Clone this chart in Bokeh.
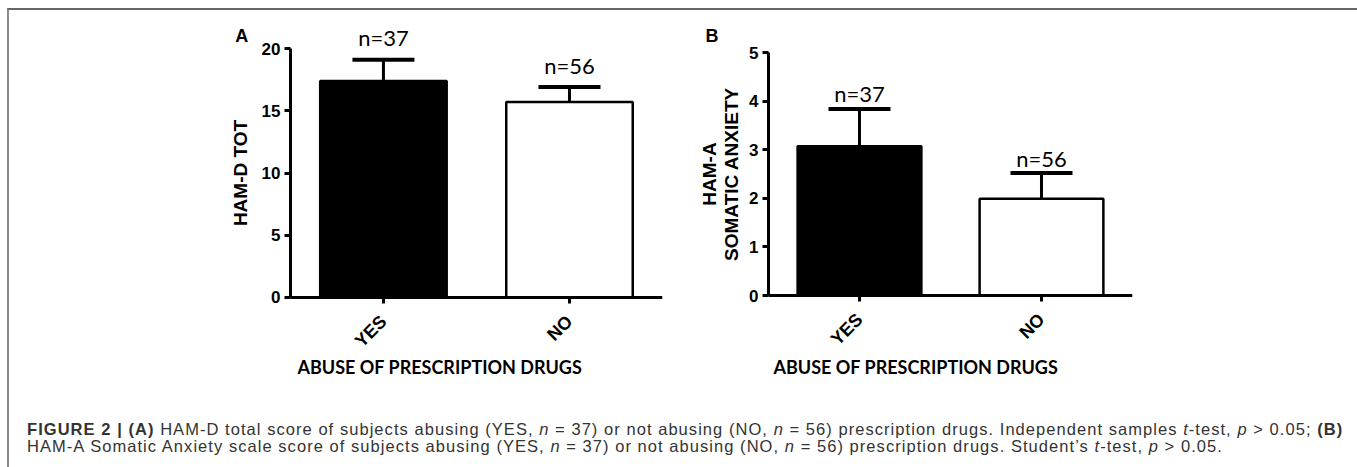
import numpy as np
from bokeh.plotting import figure
from bokeh.models import (ColumnDataSource, Whisker, TeeHead, FixedTicker, Label,
                          Title, Div, Range1d)
from bokeh.layouts import column, row
from bokeh.embed import file_html
from bokeh.resources import INLINE
from bokeh.core.properties import value

# ---------------- data ----------------
groups = ["YES", "NO"]
n_labels = ["n=37", "n=56"]
bar_fill = ["black", "white"]

hamd_tot_mean = [17.4, 15.7]
hamd_tot_sem = [1.7, 1.2]

hama_somatic_mean = [3.07, 1.99]
hama_somatic_sem = [0.77, 0.53]

hamd_ticks = [0, 5, 10, 15, 20]
hama_ticks = [0, 1, 2, 3, 4, 5]

x_axis_title = "ABUSE OF PRESCRIPTION DRUGS"
ylabel_a = "HAM-D TOT"
ylabel_b = "HAM-A\nSOMATIC ANXIETY"

caption_html = (
    "<b>FIGURE 2 | (A)</b> HAM-D total score of subjects abusing (YES, <i>n</i> = 37) "
    "or not abusing (NO, <i>n</i> = 56) prescription drugs. Independent samples "
    "<i>t</i>-test, <i>p</i> &gt; 0.05; <b>(B)</b><br>"
    "HAM-A Somatic Anxiety scale score of subjects abusing (YES, <i>n</i> = 37) or not "
    "abusing (NO, <i>n</i> = 56) prescription drugs. Student&#8217;s <i>t</i>-test, "
    "<i>p</i> &gt; 0.05."
)

ARIAL = "Liberation Sans"
CAL = "Lato"

# category positions on the x scale (1, 2, ...)
xpos = [i + 1 for i in range(len(groups))]


def panel(letter, ylabel, means, sems, ticks, y_start, y_end, x_start, width,
          mb_left, mb_right, title_offset, ylab_standoff, n_offset, letter_pos):
    upper = [m + s for m, s in zip(means, sems)]
    src = ColumnDataSource(dict(x=xpos, mean=means, upper=upper,
                                n=n_labels, fill=bar_fill))
    p = figure(x_range=Range1d(x_start, len(groups) + 0.5),
               y_range=Range1d(y_start, y_end), width=width, height=387,
               output_backend="svg", toolbar_location=None,
               min_border_left=mb_left, min_border_right=mb_right,
               min_border_top=10, min_border_bottom=45,
               outline_line_color=None, background_fill_color="white")
    p.vbar(x="x", top="mean", bottom=0, width=0.68, source=src, fill_color="fill",
           line_color="black", line_width=2.5)
    p.add_layout(Whisker(base="x", lower="mean", upper="upper", source=src,
                         line_color="black", line_width=3,
                         upper_head=TeeHead(size=62, line_width=4, line_color="black"),
                         lower_head=None))
    p.text(x="x", y="upper", text="n", source=src, text_align="center",
           text_baseline="alphabetic", y_offset=n_offset, text_font=value(CAL),
           text_font_size="22px", text_color="black")

    p.grid.visible = False
    yax = p.yaxis[0]
    xax = p.xaxis[0]
    yax.ticker = FixedTicker(ticks=ticks)
    yax.bounds = (0, ticks[-1])
    yax.fixed_location = 0.5
    xax.ticker = FixedTicker(ticks=xpos)
    xax.major_label_overrides = {x: g for x, g in zip(xpos, groups)}
    xax.bounds = (0.5, len(groups) + 0.5)
    xax.fixed_location = 0
    for ax in (yax, xax):
        ax.axis_line_width = 3
        ax.axis_line_color = "black"
        ax.major_tick_line_width = 3
        ax.major_tick_line_color = "black"
        ax.major_tick_out = 6
        ax.major_tick_in = 0
        ax.minor_tick_out = 0
        ax.minor_tick_in = 0
        ax.major_label_text_font = ARIAL
        ax.major_label_text_font_style = "bold"
        ax.major_label_text_font_size = "17px"
        ax.major_label_text_color = "black"
    yax.major_label_standoff = 4
    yax.axis_label = ylabel
    yax.axis_label_text_font = ARIAL
    yax.axis_label_text_font_style = "bold"
    yax.axis_label_text_font_size = "19px"
    yax.axis_label_text_color = "black"
    yax.axis_label_text_line_height = 1.05
    yax.axis_label_standoff = ylab_standoff
    xax.major_label_orientation = np.pi / 4
    xax.major_label_text_font_size = "18px"
    xax.major_label_standoff = 15

    p.add_layout(Title(text=x_axis_title, align="left", offset=title_offset,
                       standoff=2, text_font=CAL, text_font_style="bold",
                       text_font_size="18px", text_color="black"), "below")
    p.add_layout(Label(x=letter_pos[0], y=letter_pos[1], text=letter,
                       text_font=ARIAL, text_font_style="bold",
                       text_font_size="18px", text_color="black",
                       text_baseline="alphabetic"))
    return p


pa = panel("A", ylabel_a, hamd_tot_mean, hamd_tot_sem, hamd_ticks, -4.418, 22.25,
           0.151, 671, 216, 18, 72, 8, -22, (0.204, 21.04))
pb = panel("B", ylabel_b, hama_somatic_mean, hama_somatic_sem, hama_ticks, -1.173,
           5.66, 0.110, 674, 17, 222, 76, 4, -15, (0.154, 5.35))

cap = Div(text='<div style="padding:19px 0 0 13px; font-family:\'Liberation Sans\'; '
               'font-size:16.5px; line-height:17px; letter-spacing:1.05px; '
               'color:#333; white-space:nowrap;">' + caption_html + '</div>',
          width=1345, height=66)

layout = column(row(pa, pb), cap,
                styles={"margin-left": "7px", "margin-top": "8px",
                        "border-top": "2px solid #666",
                        "border-left": "2px solid #8c8c8c",
                        "border-right": "2px solid #8c8c8c"})

open("out.html", "w").write(file_html(layout, INLINE))
